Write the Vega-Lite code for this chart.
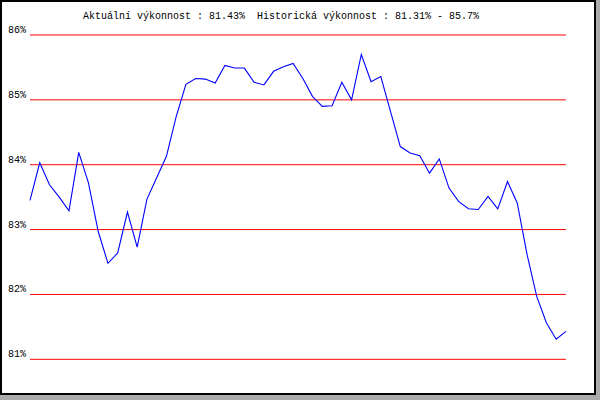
{
  "$schema": "https://vega.github.io/schema/vega-lite/v6.json",
  "width": 594,
  "height": 393,
  "autosize": "none",
  "padding": {"left": 1, "top": 1, "right": 5, "bottom": 6},
  "background": "#aaaaaa",
  "title": {
    "text": "Aktuální výkonnost : 81.43%\u00a0 Historická výkonnost : 81.31% - 85.7%",
    "anchor": "start",
    "frame": "group",
    "orient": "top",
    "offset": 0,
    "dx": 82,
    "dy": 28,
    "baseline": "alphabetic",
    "font": "Liberation Mono",
    "fontSize": 10,
    "fontWeight": "normal",
    "color": "#000000"
  },
  "config": {
    "view": {"fill": "#ffffff", "stroke": "#000000", "strokeWidth": 2}
  },
  "datasets": {
    "grid": [
      {"g": 81, "label": "81%"},
      {"g": 82, "label": "82%"},
      {"g": 83, "label": "83%"},
      {"g": 84, "label": "84%"},
      {"g": 85, "label": "85%"},
      {"g": 86, "label": "86%"}
    ],
    "series": [
      {"i": 0, "v": 83.45}, {"i": 1, "v": 84.03}, {"i": 2, "v": 83.69}, {"i": 3, "v": 83.50},
      {"i": 4, "v": 83.29}, {"i": 5, "v": 84.19}, {"i": 6, "v": 83.72}, {"i": 7, "v": 82.97},
      {"i": 8, "v": 82.48}, {"i": 9, "v": 82.64}, {"i": 10, "v": 83.27}, {"i": 11, "v": 82.73},
      {"i": 12, "v": 83.47}, {"i": 13, "v": 83.80}, {"i": 14, "v": 84.13}, {"i": 15, "v": 84.74},
      {"i": 16, "v": 85.24}, {"i": 17, "v": 85.33}, {"i": 18, "v": 85.32}, {"i": 19, "v": 85.26},
      {"i": 20, "v": 85.53}, {"i": 21, "v": 85.49}, {"i": 22, "v": 85.49}, {"i": 23, "v": 85.27},
      {"i": 24, "v": 85.23}, {"i": 25, "v": 85.44}, {"i": 26, "v": 85.51}, {"i": 27, "v": 85.56},
      {"i": 28, "v": 85.33}, {"i": 29, "v": 85.05}, {"i": 30, "v": 84.90}, {"i": 31, "v": 84.91},
      {"i": 32, "v": 85.27}, {"i": 33, "v": 85.00}, {"i": 34, "v": 85.70}, {"i": 35, "v": 85.28},
      {"i": 36, "v": 85.36}, {"i": 37, "v": 84.82}, {"i": 38, "v": 84.28}, {"i": 39, "v": 84.18},
      {"i": 40, "v": 84.14}, {"i": 41, "v": 83.87}, {"i": 42, "v": 84.09}, {"i": 43, "v": 83.64},
      {"i": 44, "v": 83.43}, {"i": 45, "v": 83.32}, {"i": 46, "v": 83.31}, {"i": 47, "v": 83.51},
      {"i": 48, "v": 83.32}, {"i": 49, "v": 83.74}, {"i": 50, "v": 83.41}, {"i": 51, "v": 82.62},
      {"i": 52, "v": 81.97}, {"i": 53, "v": 81.56}, {"i": 54, "v": 81.31}, {"i": 55, "v": 81.43}
    ]
  },
  "layer": [
    {
      "data": {"name": "grid"},
      "mark": {"type": "rule", "color": "#ff0000", "strokeWidth": 1},
      "encoding": {
        "y": {"field": "g", "type": "quantitative", "axis": null,
              "scale": {"domain": [80.465, 86.524], "nice": false, "zero": false}},
        "x": {"datum": 0, "type": "quantitative", "axis": null,
              "scale": {"domain": [-2.976, 57.98], "nice": false, "zero": false}},
        "x2": {"datum": 55}
      }
    },
    {
      "data": {"name": "grid"},
      "mark": {"type": "text", "align": "right", "baseline": "alphabetic", "dx": -4, "dy": -2,
               "font": "Liberation Mono", "fontSize": 10, "color": "#000000"},
      "encoding": {
        "y": {"field": "g", "type": "quantitative", "axis": null},
        "x": {"datum": 0, "type": "quantitative", "axis": null},
        "text": {"field": "label"}
      }
    },
    {
      "data": {"name": "series"},
      "mark": {"type": "line", "color": "#0000ff", "strokeWidth": 1.1},
      "encoding": {
        "x": {"field": "i", "type": "quantitative", "axis": null},
        "y": {"field": "v", "type": "quantitative", "axis": null}
      }
    }
  ]
}
